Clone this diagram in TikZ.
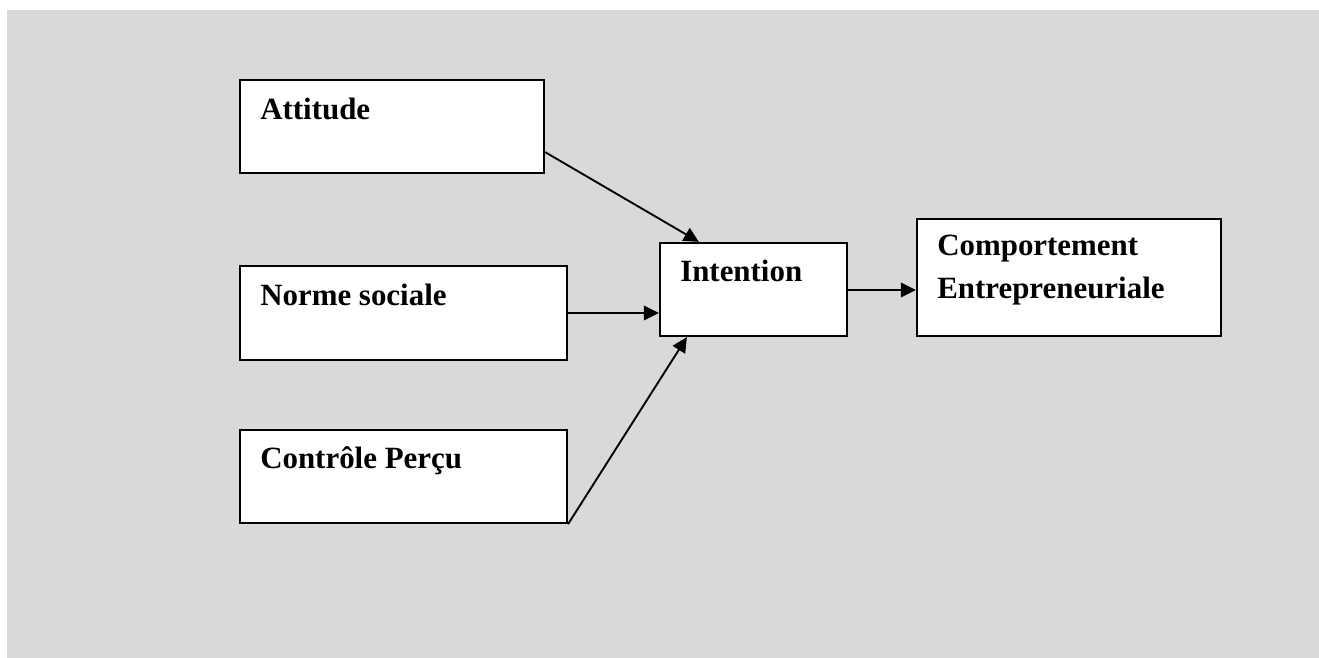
\documentclass[tikz,border=0pt]{standalone}
\usepackage{fontspec}
\setmainfont{Liberation Serif}
\usepackage{xcolor}
\usepackage{tikz}
\usetikzlibrary{calc}
\usetikzlibrary{arrows.meta}

\definecolor{fond}{HTML}{D9D9D9}

\begin{document}
\begin{tikzpicture}[x=0.02cm,y=-0.02cm,
    boite/.style={draw,line width=0.045cm,fill=white,inner sep=0pt},
    texte/.style={anchor=base west,inner sep=0pt,align=left,
      font=\fontsize{17.6}{24.5}\selectfont\bfseries},
    fleche/.style={line width=0.038cm,-{Triangle[length=0.3cm,width=0.29cm]}}]
    \useasboundingbox (0,0) rectangle (1319,658);

    % Background
    \fill[fond] (7,10) rectangle (1319,658);

    % Boxes
    \node [boite, minimum width=6.08cm, minimum height=1.86cm] (attitude) at (392,126.5) {};
    \node [boite, minimum width=6.54cm, minimum height=1.88cm] (norme) at (403.5,313) {};
    \node [boite, minimum width=6.54cm, minimum height=1.86cm] (controle) at (403.5,476.5) {};
    \node [boite, minimum width=3.74cm, minimum height=1.86cm] (intention) at (753.5,289.5) {};
    \node [boite, minimum width=6.08cm, minimum height=2.34cm] (comportement) at (1069,277.5) {};

    % Texts (base = last line)
    \node [texte] (t-attitude) at ($(attitude.north west)+(21,41)$) {Attitude};
    \node [texte] (t-norme) at ($(norme.north west)+(21,41)$) {Norme sociale};
    \node [texte] (t-controle) at ($(controle.north west)+(21,40)$) {Contrôle Perçu};
    \node [texte] (t-intention) at ($(intention.north west)+(21,40)$) {Intention};
    \node [texte] (t-comportement) at ($(comportement.north west)+(21,81)$) {Comportement\\Entrepreneuriale};

    % Arrows
    \draw [fleche] ($(attitude.south east)+(0,-22)$) -- ($(intention.north west)+(40,0)$);%
    \draw [fleche] (norme.east) -- (norme.east -| intention.west);%
    \draw [fleche] (controle.south east) -- ($(intention.south west)+(28,0)$);%
    \draw [fleche] ($(intention.east)+(0,0.5)$) -- ($(intention.east -| comportement.west)+(0,0.5)$);%
\end{tikzpicture}
\end{document}
